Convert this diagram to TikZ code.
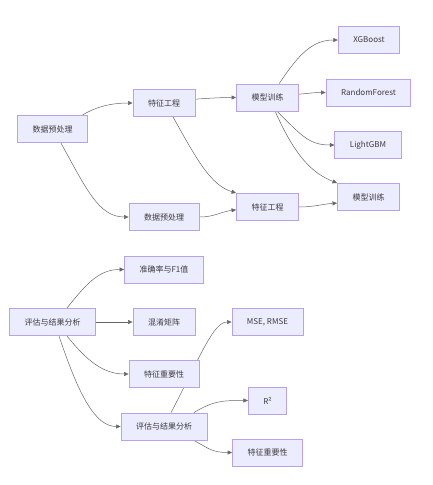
\documentclass[tikz,border=0pt]{standalone}
\usepackage{fontspec}
\setmainfont{Noto Sans CJK SC}
\usepackage{tikz}
\usetikzlibrary{arrows.meta,backgrounds}
\definecolor{boxfill}{HTML}{ECECFF}
\definecolor{boxline}{HTML}{B8A2EE}
\definecolor{linkgray}{HTML}{666666}
\definecolor{textgray}{HTML}{3C3C3C}

\begin{document}
\begin{tikzpicture}[x=1pt, y=-1pt,
  box/.style={draw=boxline, fill=boxfill, line width=0.9pt, minimum height=27pt, inner xsep=15pt, font=\fontsize{8}{10}\selectfont, text=textgray},
  link/.style={draw=linkgray, line width=0.5pt, -{Triangle[length=4.5pt,width=4pt]}},
]
\useasboundingbox (0,0) rectangle (432,485);
% Training branch
\node[box] (prep)   at (52.5,129)  {数据预处理};
\node[box] (feat)   at (164,103)   {特征工程};
\node[box] (prep2)  at (164,217)   {数据预处理};
\node[box] (train)  at (267.5,97.5){模型训练};
\node[box] (feat2)  at (267.5,207) {特征工程};
\node[box] (xgb)    at (369,40)    {XGBoost};
\node[box] (rf)     at (368.5,92.5){RandomForest};
\node[box] (lgbm)   at (368,145)   {LightGBM};
\node[box] (train2) at (368.5,197) {模型训练};
% Evaluation branch
\node[box] (eval)   at (52.5,322)  {评估与结果分析};
\node[box] (acc)    at (164,269.5) {准确率与F1值};
\node[box] (conf)   at (164,322)   {混淆矩阵};
\node[box] (imp)    at (164,374)   {特征重要性};
\node[box] (eval2)  at (164,426.5) {评估与结果分析};
\node[box] (mse)    at (267.5,322) {MSE, RMSE};
\node[box] (rsq)    at (267.5,400.5) {R²};
\node[box] (imp2)   at (267.5,452.5) {特征重要性};
\begin{scope}[on background layer]
\draw[link] (prep.25) .. controls +(15,-9) and +(-20,0) .. (feat.west);
\draw[link] (prep.-59) .. controls +(25,45) and +(-30,0) .. (prep2.west);
\draw[link] (feat.7) .. controls +(15,-1) and +(-15,0) .. (train.west);
\draw[link] (feat.-57) .. controls +(25,45) and +(-25,-8) .. (feat2.north west);
\draw[link] (prep2.east) .. controls +(15,0) and +(-15,2) .. (feat2.185);
\draw[link] (train.50) .. controls +(20,-30) and +(-25,0) .. (xgb.west);
\draw[link] (train.6) .. controls +(12,-1) and +(-12,0) .. (rf.west);
\draw[link] (train.-55) .. controls +(25,25) and +(-25,0) .. (lgbm.west);
\draw[link] (train.-61) .. controls +(20,45) and +(-25,-10) .. (train2.north west);
\draw[link] (feat2.east) .. controls +(15,0) and +(-15,1) .. (train2.191);
\draw[link] (eval.44) .. controls +(20,-25) and +(-25,0) .. (acc.west);
\draw[link] (eval.east) -- (conf.west);
\draw[link] (eval.-44) .. controls +(20,25) and +(-25,0) .. (imp.west);
\draw[link] (eval.-65) .. controls +(20,60) and +(-25,0) .. (eval2.west);
\draw[link] (eval2.63) .. controls +(30,-58) and +(-18,0) .. (mse.west);
\draw[link] (eval2.25) .. controls +(20,-12) and +(-25,0) .. (rsq.west);
\draw[link] (eval2.-25) .. controls +(15,8) and +(-20,0) .. (imp2.west);
\end{scope}
\end{tikzpicture}
\end{document}
